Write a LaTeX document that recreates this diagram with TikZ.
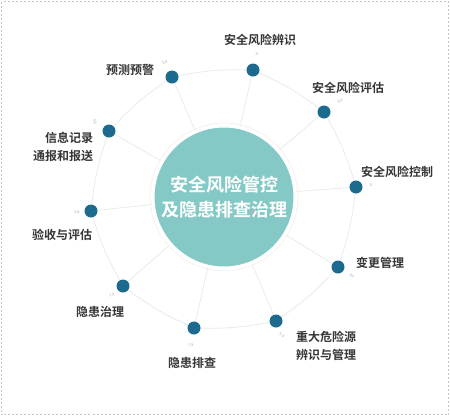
\documentclass[tikz,border=0pt]{standalone}
\usepackage{fontspec}
\newfontfamily\cjk[BoldFont={Noto Sans CJK SC Bold}]{Noto Sans CJK SC}
\definecolor{tealc}{HTML}{85C9C6}
\definecolor{dotc}{HTML}{1C6A8E}
\definecolor{labc}{HTML}{363636}
\definecolor{linec}{HTML}{EAEAEA}
\definecolor{tagc}{HTML}{C4C4C4}
\definecolor{bordc}{HTML}{C8C8C8}
\pgfdeclarelayer{bg}
\pgfsetlayers{bg,main}
\begin{document}
\begin{tikzpicture}[x=1pt,y=-1pt,
  link/.style={draw=linec, line width=0.8pt},
  dot/.style={circle, fill=dotc, minimum size=13pt, inner sep=0pt},
  lab/.style={font=\cjk\bfseries\fontsize{12}{18}\selectfont, text=labc, inner sep=0pt},
  tag/.style={font=\sffamily\fontsize{6}{6}\selectfont, text=tagc, inner sep=0pt},
  hub/.style={circle, fill=tealc, draw=white, line width=3pt, minimum size=142pt, inner sep=0pt,
    text=white, align=center, font=\cjk\bfseries\fontsize{18}{25}\selectfont}]
\useasboundingbox (0,0) rectangle (450,416);
\draw[bordc, dash pattern=on 2pt off 2pt, line width=0.6pt] (1.5,1.5) rectangle (448.5,414.5);

\node[hub] (c) at (224,197) {安全风险管控\\及隐患排查治理};
\draw[gray!10, line width=0.8pt] (c.center) circle (73.8);

\node[dot] (d1) at (253,70) {};
\node[dot] (d2) at (324,112) {};
\node[dot] (d3) at (356,187) {};
\node[dot] (d4) at (338,267) {};
\node[dot] (d5) at (276,321) {};
\node[dot] (d6) at (194,328) {};
\node[dot] (d7) at (123,286) {};
\node[dot] (d8) at (91,211) {};
\node[dot] (d9) at (109,131) {};
\node[dot] (d10) at (172,77) {};

\begin{pgfonlayer}{bg}
\foreach \i in {1,...,10} \draw[link] (d\i.center) -- (c.center);
\foreach \i/\j in {1/2,2/3,3/4,4/5,5/6,6/7,7/8,8/9,9/10,10/1}
  \draw[link] (d\i) to[bend left=6] (d\j);
\end{pgfonlayer}

\node[tag, rotate=0] (t1) at (257,54) {a};
\node[tag, rotate=35] (t2) at (340,101) {sa};
\node[tag, rotate=0] (t3) at (371,185) {a};
\node[tag, rotate=-40] (t4) at (352,276) {sa};
\node[tag, rotate=-30] (t5) at (282,335) {sa};
\node[tag, rotate=0] (t6) at (191,345) {ra};
\node[tag, rotate=30] (t7) at (112,295) {ra};
\node[tag, rotate=0] (t8) at (77,212) {sa};
\node[tag, rotate=-80] (t9) at (95,122) {sa};
\node[tag, rotate=20] (t10) at (165,62) {sa};

\node[lab] (l1) at (260,40) {安全风险辨识};
\node[lab] (l2) at (348,88) {安全风险评估};
\node[lab] (l3) at (397,172) {安全风险控制};
\node[lab] (l4) at (380,263) {变更管理};
\node[lab, align=left] (l5) at (326,346) {重大危险源\\辨识与管理};
\node[lab] (l6) at (192,363) {隐患排查};
\node[lab] (l7) at (100,312) {隐患治理};
\node[lab] (l8) at (62,235) {验收与评估};
\node[lab, align=right] (l9) at (63,147) {信息记录\\通报和报送};
\node[lab] (l10) at (130,70) {预测预警};
\end{tikzpicture}
\end{document}
